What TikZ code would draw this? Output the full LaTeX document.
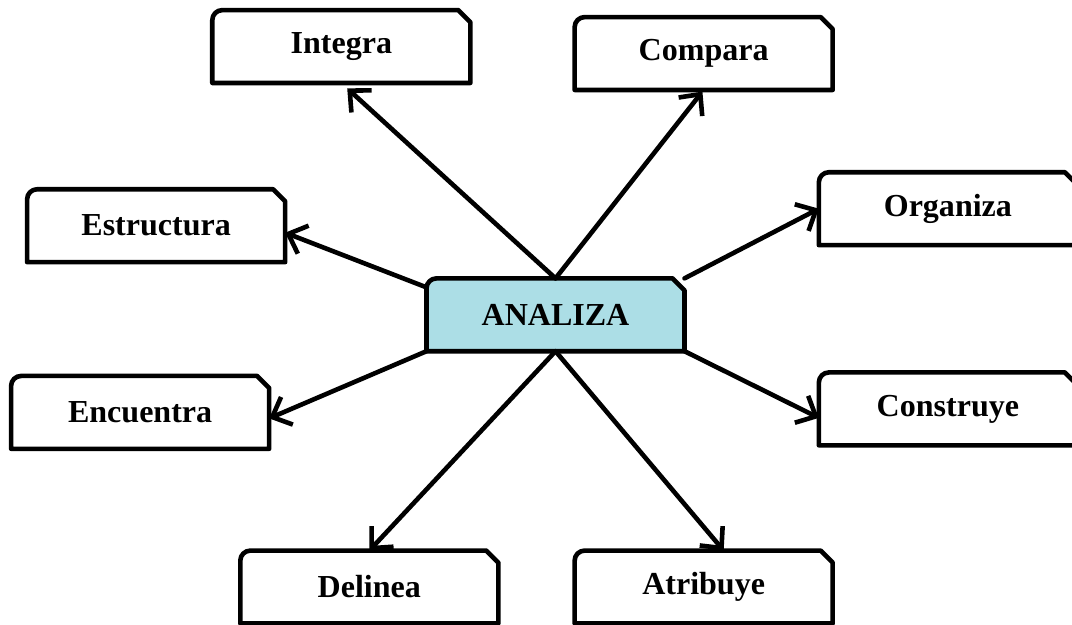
\documentclass[tikz,border=0pt]{standalone}
\usepackage{fontspec}
\setmainfont{Liberation Serif}
\usetikzlibrary{positioning,arrows.meta,backgrounds}

\definecolor{azulagua}{RGB}{172,222,230}

\tikzset{
  caja/.style={minimum width=128.5pt, minimum height=36pt, inner sep=0pt,
    font=\fontsize{16}{18}\selectfont\bfseries},
  borde/.style={line width=2.3pt, line join=round},
  flecha/.style={line width=2.3pt, line cap=round, line join=round,
    -{Straight Barb[length=8pt,width=15pt]}},
}

\begin{document}
\begin{tikzpicture}[on grid]
  \useasboundingbox (-277.5pt,-154.75pt) rectangle (258pt,157.25pt);
  \node[caja] (Analiza) at (0,0) {ANALIZA};
  \node[caja, above left=134pt and 107pt of Analiza] (Integra) {Integra};
  \node[caja, above right=130.5pt and 74pt of Analiza] (Compara) {Compara};
  \node[caja, above left=44.5pt and 199.5pt of Analiza] (Estructura) {Estructura};
  \node[caja, above right=53pt and 196pt of Analiza] (Organiza) {Organiza};
  \node[caja, below left=48.75pt and 207.5pt of Analiza] (Encuentra) {Encuentra};
  \node[caja, below right=47pt and 196pt of Analiza] (Construye) {Construye};
  \node[caja, below left=136pt and 93pt of Analiza] (Delinea) {Delinea};
  \node[caja, below right=136pt and 74pt of Analiza] (Atribuye) {Atribuye};

  % cajas con esquina recortada
  \begin{scope}[on background layer]
    \foreach \c/\relleno in {Analiza/azulagua, Integra/white, Compara/white,
        Estructura/white, Organiza/white, Encuentra/white, Construye/white,
        Delinea/white, Atribuye/white}
      \draw[borde, fill=\relleno] (\c.south west) -- ([yshift=-5pt]\c.north west)
        arc[start angle=180, end angle=90, radius=5pt]
        -- ([xshift=-6pt]\c.north east) -- ([yshift=-6pt]\c.north east)
        -- (\c.south east) -- cycle;
  \end{scope}

  \draw[flecha, shorten >=4pt] (Analiza.north) -- (Integra.south);
  \draw[flecha, shorten >=1pt] (Analiza.north) -- (Compara.south);
  \draw[flecha] (Analiza.168) -- ([yshift=-3.5pt]Estructura.east);
  \draw[flecha] (Analiza.north east) -- (Organiza.west);
  \draw[flecha] (Analiza.south west) -- ([yshift=-3pt]Encuentra.east);
  \draw[flecha] (Analiza.south east) -- ([yshift=-4.5pt]Construye.west);
  \draw[flecha] (Analiza.south) -- (Delinea.north);
  \draw[flecha] (Analiza.south) -- ([xshift=10pt]Atribuye.north);
\end{tikzpicture}
\end{document}
